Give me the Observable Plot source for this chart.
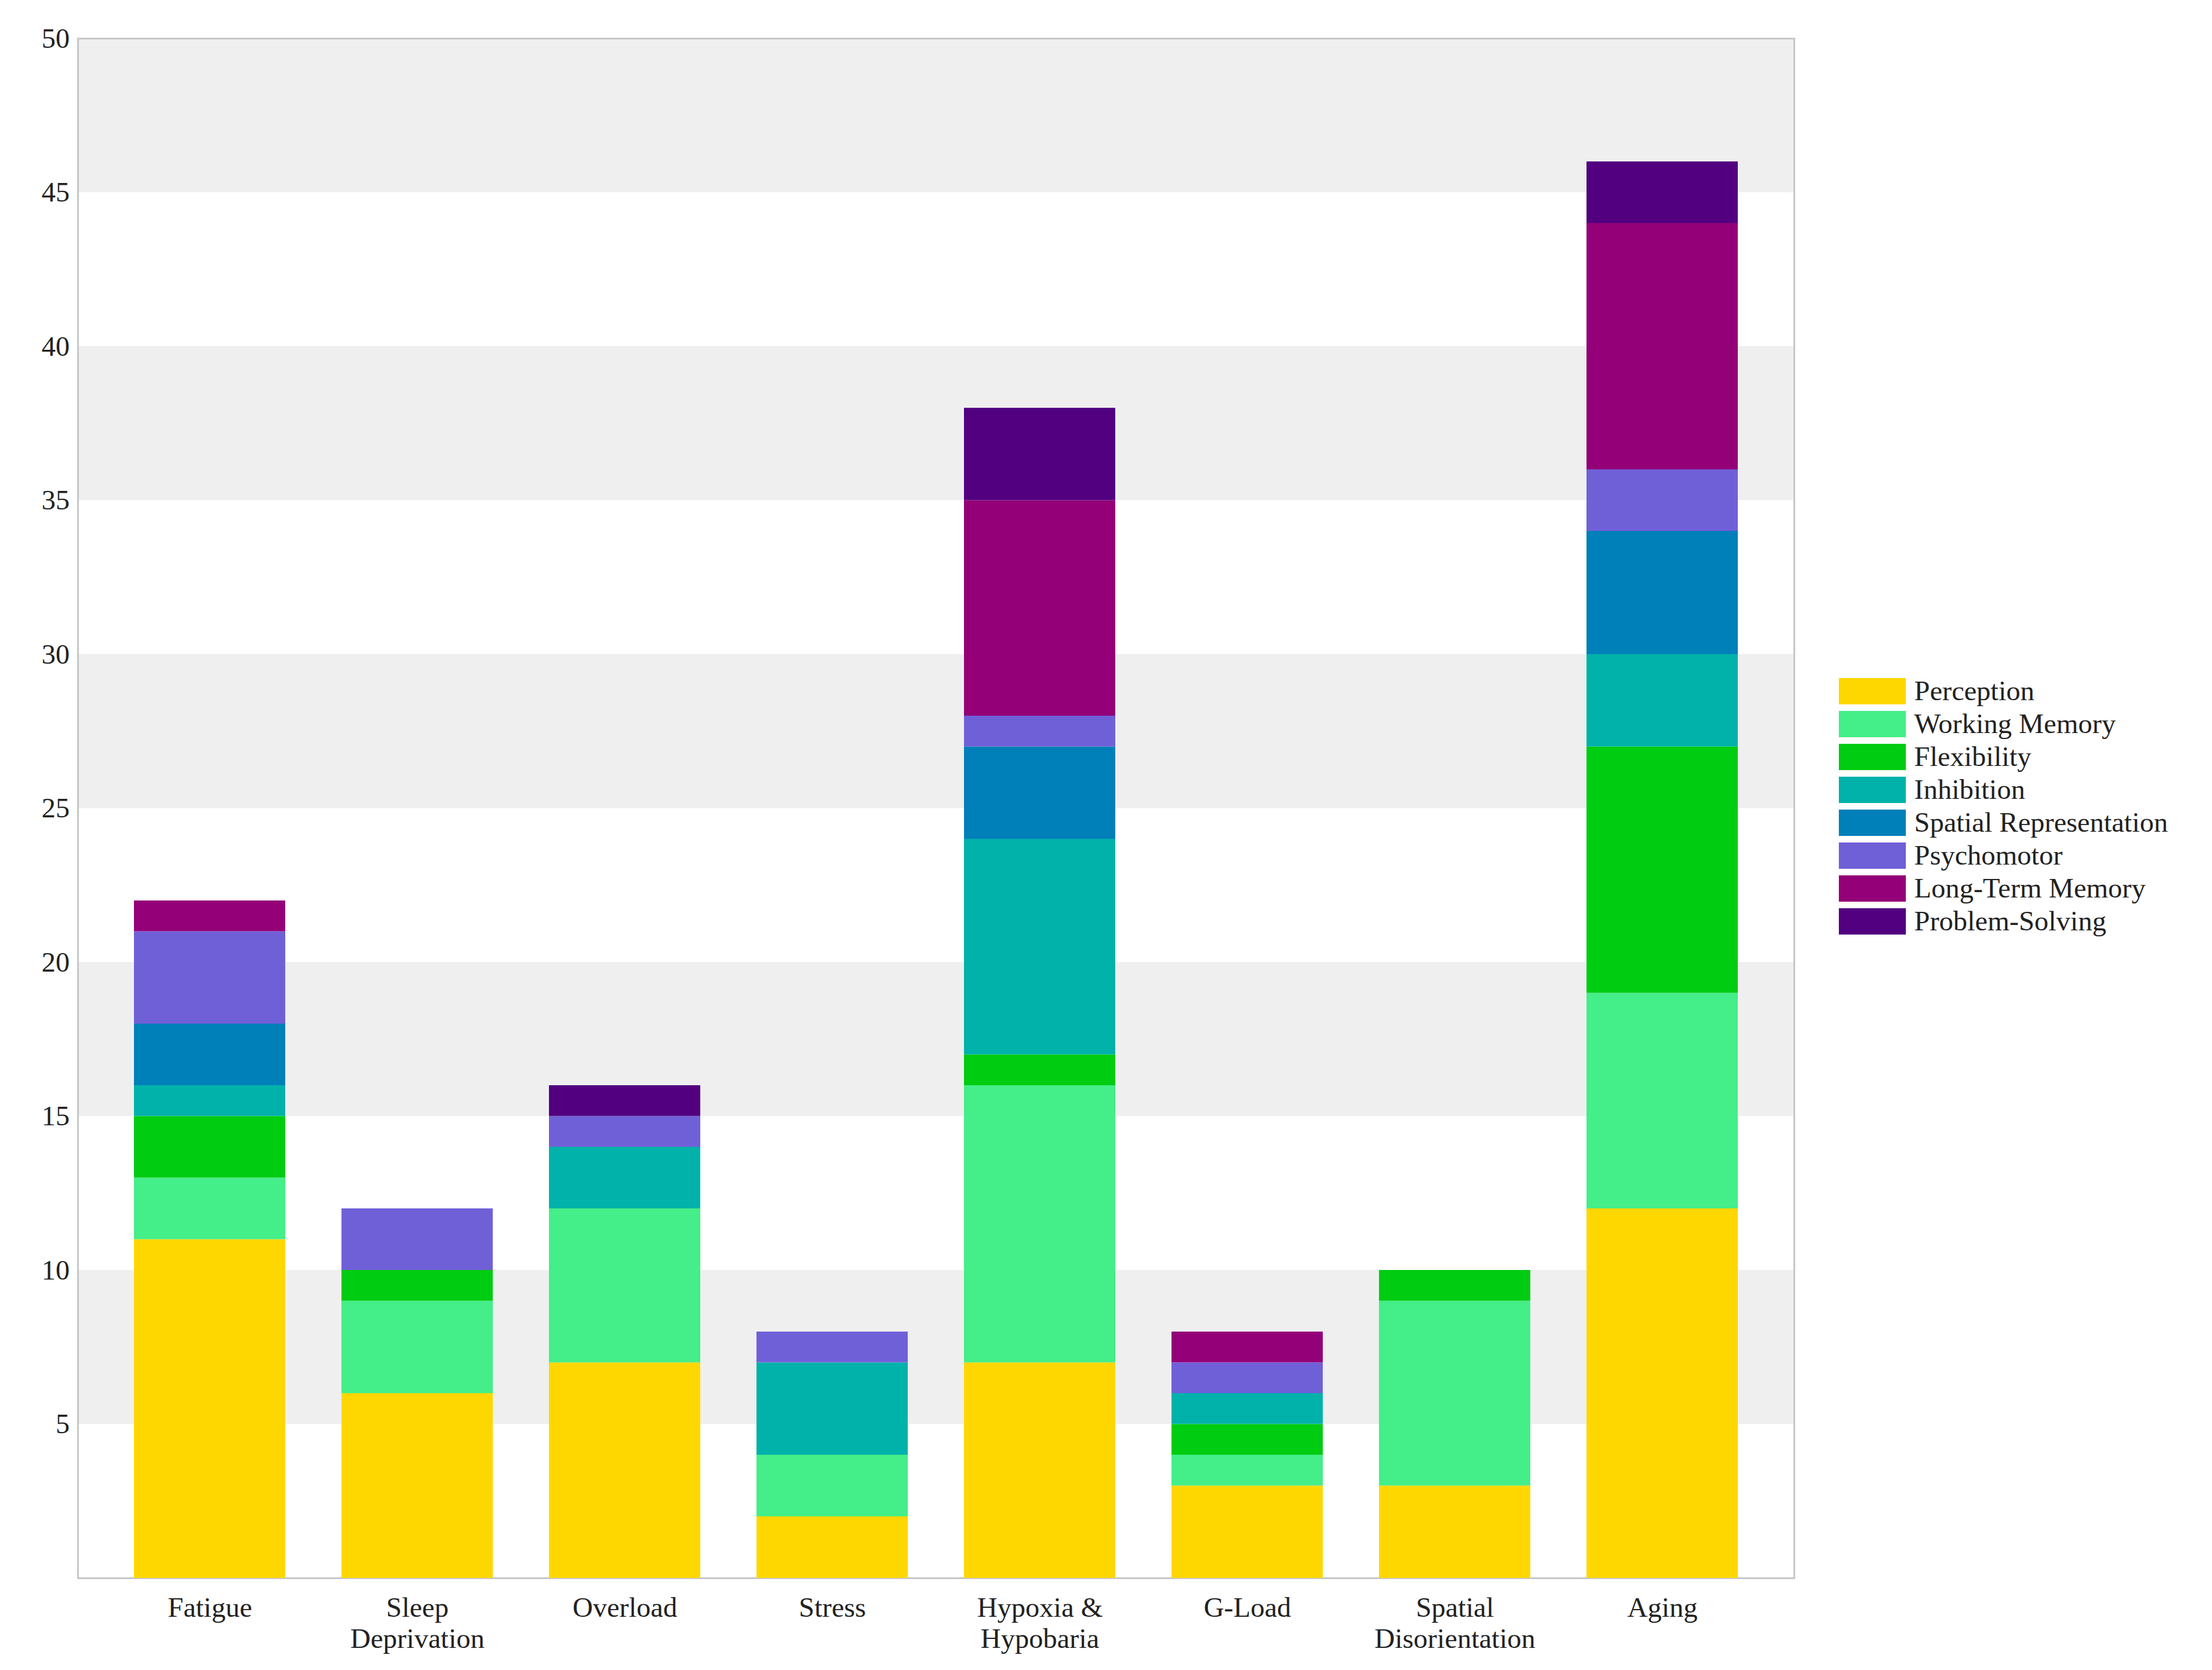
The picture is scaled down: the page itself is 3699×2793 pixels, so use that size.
<!DOCTYPE html>
<html><head><meta charset="utf-8">
<script src="https://cdn.jsdelivr.net/npm/d3@7"></script>
<script src="https://cdn.jsdelivr.net/npm/@observablehq/plot@0.6"></script>
<style>
body{margin:0;background:#fff;font-family:"Liberation Serif","Times New Roman",serif;}
#wrap{position:relative;width:3699px;height:2793px;}
#legend{position:absolute;left:3075px;top:1128px;font-size:47px;line-height:55px;color:#222;}
.row{display:flex;align-items:center;height:55px;}
.sw{width:112px;height:44px;margin-right:14px;}
</style></head><body>
<div id="wrap"><div id="chart"></div><div id="legend"></div></div>
<script>
const stressors = ["Fatigue","Sleep\nDeprivation","Overload","Stress","Hypoxia &\nHypobaria","G-Load","Spatial\nDisorientation","Aging"];
const domains = ["Perception","Working Memory","Flexibility","Inhibition","Spatial Representation","Psychomotor","Long-Term Memory","Problem-Solving"];
const colors = ["#FFD700","#44EE88","#00CC11","#00B2AA","#0080B8","#7060D8","#940078","#520080"];
const perception    = [11,6,7,2,7,3,3,12];
const workingMemory = [2,3,5,2,9,1,6,7];
const flexibility   = [2,1,0,0,1,1,1,8];
const inhibition    = [1,0,2,3,7,1,0,3];
const spatialRep    = [2,0,0,0,3,0,0,4];
const psychomotor   = [3,2,1,1,1,1,0,2];
const longTermMem   = [1,0,0,0,7,1,0,8];
const problemSolve  = [0,0,1,0,3,0,0,2];
const series = [perception,workingMemory,flexibility,inhibition,spatialRep,psychomotor,longTermMem,problemSolve];
const yTicks = [5,10,15,20,25,30,35,40,45,50];
const bands = [[5,10],[15,20],[25,30],[35,40],[45,50]];

const data = [];
stressors.forEach((s,i)=>series.forEach((arr,j)=>{ if(arr[i]>0) data.push({s, d:domains[j], v:arr[i]}); }));

const chart = Plot.plot({
  width: 3080, height: 2793,
  marginTop: 64, marginBottom: 154, marginLeft: 130, marginRight: 80,
  style: {fontFamily: '"Liberation Serif","Times New Roman",serif', fontSize: "47px", color:"#222"},
  x: {domain: stressors, padding: 0.27, label: null},
  y: {domain: [0,50], label: null},
  color: {domain: domains, range: colors},
  marks: [
    Plot.rectY(bands, {y1: d=>d[0], y2: d=>d[1], fill: "#efefef"}),
    Plot.frame({stroke: "#c8c8c8", strokeWidth: 3}),
    Plot.barY(data, Plot.stackY({x: "s", y: "v", z: "d", fill: "d", order: domains})),
    Plot.axisY({ticks: yTicks, tickSize: 0, tickPadding: 14, fontSize: 47}),
    Plot.axisX({tickSize: 0, tickPadding: 28, fontSize: 47, lineHeight: 1.1})
  ]
});
document.getElementById("chart").append(chart);
const lg = document.getElementById("legend");
domains.forEach((d,i)=>{
  const r = document.createElement("div"); r.className="row";
  r.innerHTML = `<div class="sw" style="background:${colors[i]}"></div><span>${d}</span>`;
  lg.append(r);
});
</script></body></html>
